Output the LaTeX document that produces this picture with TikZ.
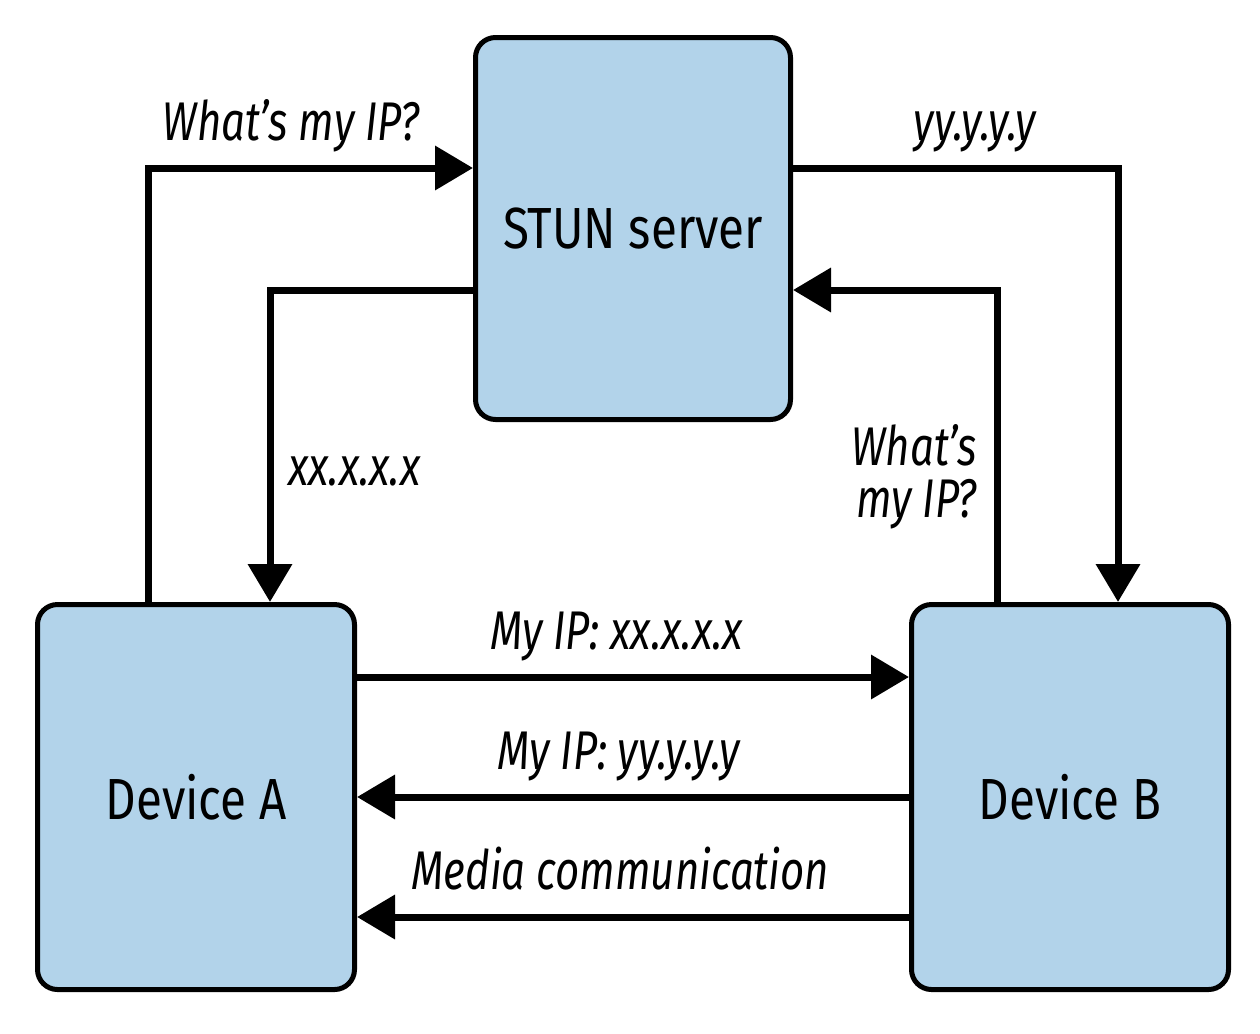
\documentclass[tikz,border=0pt]{standalone}
\usepackage{fontspec}
\setmainfont{Fira Sans}[FakeStretch=0.82, ItalicFeatures={FakeStretch=0.77}]
\usetikzlibrary{arrows.meta}
\definecolor{stunblue}{HTML}{B2D3EA}

\begin{document}
\begin{tikzpicture}[
    box/.style={draw=black, line width=0.1cm, fill=stunblue, rounded corners=0.4cm, inner sep=0pt, font=\fontsize{33}{36}\selectfont},
    flow/.style={line width=0.14cm, -{Triangle[width=0.86cm,length=0.76cm]}},
    lbl/.style={font=\fontsize{31}{30}\selectfont\itshape, inner sep=0pt, text depth=0pt}
]
        \useasboundingbox (0,0) rectangle (25.2,-20.66);
        \node[box, minimum width=6.3cm, minimum height=7.64cm] (stun) at (12.66,-4.57) {STUN server};
        \node[box, minimum width=6.34cm, minimum height=7.7cm] (devA) at (3.92,-15.94) {Device A};
        \node[box, minimum width=6.34cm, minimum height=7.7cm] (devB) at (21.4,-15.94) {Device B};
        % requests and answers via the STUN server
        \draw[flow] ([xshift=-0.96cm]devA.north) |- ([yshift=1.21cm]stun.west) node[lbl, pos=0.72, above=0.48cm] {What’s my IP?};
        \draw[flow] ([yshift=-1.23cm]stun.west) -| ([xshift=1.48cm]devA.north) node[lbl, pos=0.79, right=0.3cm] {xx.x.x.x};
        \draw[flow] ([yshift=1.21cm]stun.east) -| ([xshift=0.96cm]devB.north) node[lbl, pos=0.28, above=0.48cm] {yy.y.y.y};
        \draw[flow] ([xshift=-1.46cm]devB.north) |- ([yshift=-1.23cm]stun.east) node[lbl, pos=0.21, left=0.34cm, align=right] {What’s\\my IP?};
        % between the devices
        \draw[flow] ([yshift=2.4cm]devA.east) -- ([yshift=2.4cm]devB.west) node[lbl, pos=0.47, above=0.48cm] {My IP: xx.x.x.x};
        \draw[flow] (devB.west) -- (devA.east) node[lbl, pos=0.526, above=0.48cm] {My IP: yy.y.y.y};
        \draw[flow] ([yshift=-2.4cm]devB.west) -- ([yshift=-2.4cm]devA.east) node[lbl, pos=0.523, above=0.48cm] {Media communication};
    \end{tikzpicture}
\end{document}
